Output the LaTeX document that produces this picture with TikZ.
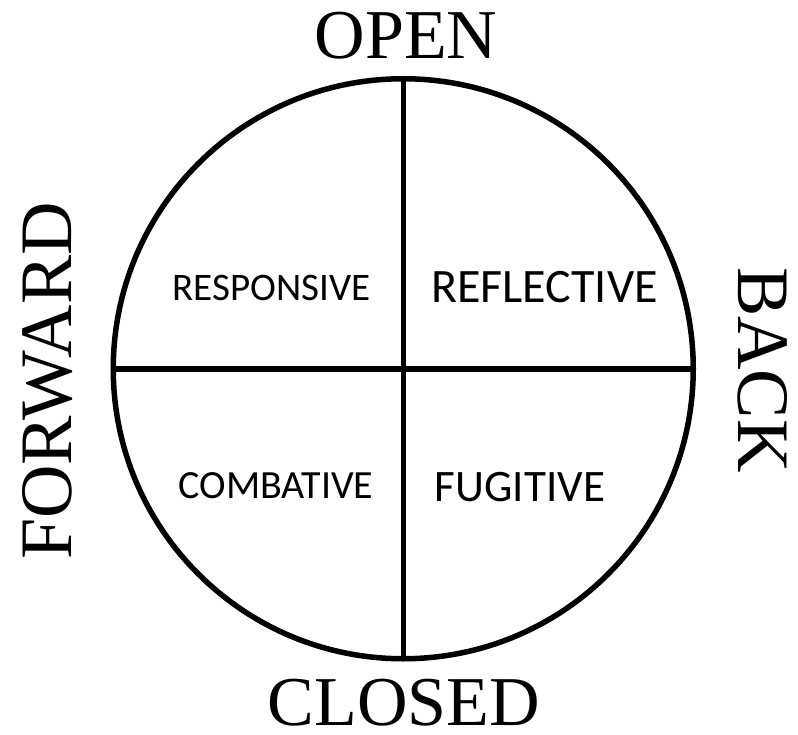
\documentclass[tikz,border=0pt]{standalone}
\usepackage{fontspec}
\setmainfont{Liberation Serif}
\newfontfamily\quadfont{Carlito}
\begin{document}
\begin{tikzpicture}[x=1pt,y=-1pt,
  axislabel/.style={inner sep=0pt, font=\fontsize{70}{70}\selectfont},
  sidelabel/.style={inner sep=0pt, font=\fontsize{74}{74}\selectfont},
  quadlabel/.style={inner sep=0pt},
  ring/.style={line width=5.5pt, draw=black}]
\useasboundingbox (0,0) rectangle (798,735);
\coordinate (c) at (403.25,368.75);
\draw[ring] (c) circle[radius=290];
\coordinate (top) at (403.25,78.75);
\coordinate (bot) at (403.25,658.75);
\coordinate (lft) at (113.25,368.75);
\coordinate (rgt) at (693.25,368.75);
\draw[ring] (top) -- (bot);
\draw[ring] (lft) -- (rgt);
\node[axislabel] (open) at (406,36) {OPEN};
\node[axislabel] (closed) at (404,703) {CLOSED};
\node[sidelabel, rotate=90] (forward) at (48,381) {FORWARD};
\node[sidelabel, rotate=-90] (back) at (763,370) {BACK};
\node[quadlabel, font=\quadfont\fontsize{39}{39}\selectfont] (responsive) at (271.5,287.5) {RESPONSIVE};
\node[quadlabel, font=\quadfont\fontsize{48}{48}\selectfont] (reflective) at (544.5,287.5) {REFLECTIVE};
\node[quadlabel, font=\quadfont\fontsize{40}{40}\selectfont] (combative) at (276,485.5) {COMBATIVE};
\node[quadlabel, font=\quadfont\fontsize{45}{45}\selectfont] (fugitive) at (520,487) {FUGITIVE};
\end{tikzpicture}
\end{document}
